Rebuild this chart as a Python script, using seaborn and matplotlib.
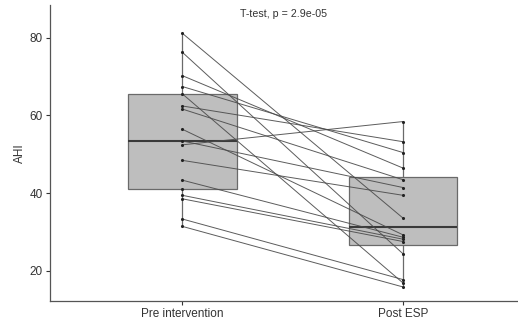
import matplotlib
matplotlib.use("Agg")
import matplotlib.pyplot as plt
import seaborn as sns
import pandas as pd
import numpy as np

# --- data ---
groups = ["Pre intervention", "Post ESP"]
# paired subjects; the last pre value has no visible partner (sits on the box edge)
pre_ahi = [81.1, 76.2, 70.2, 67.4, 65.5, 62.4, 61.6, 56.4, 53.4, 52.4, 48.4, 43.3, 39.4, 38.5, 33.3, 31.4, 41.1]
post_ahi = [33.5, 24.3, 46.4, 50.4, 16.8, 53.2, 43.4, 29.2, 41.4, 58.4, 39.4, 28.6, 28.1, 27.5, 17.7, 15.8, np.nan]
y_ticks = [20, 40, 60, 80]
annotation = "T-test, p = 2.9e-05"
y_label = "AHI"

sns.set_theme(style="white")
plt.rcParams["font.family"] = ["Liberation Sans", "DejaVu Sans"]

n = len(pre_ahi)
df = pd.DataFrame({
    "id": list(range(n)) * 2,
    "group": [groups[0]] * n + [groups[1]] * n,
    "AHI": pre_ahi + post_ahi,
})

fig = plt.figure(figsize=(5.18, 3.25), dpi=100)
ax = fig.add_axes([50 / 518, 24 / 325, 468 / 518, 296 / 325])

sns.boxplot(data=df, x="group", y="AHI", order=groups, ax=ax, width=0.49,
            color="#bebebe", saturation=1, whis=1.5, showfliers=False, showcaps=False,
            boxprops=dict(edgecolor="#6a6a6a", linewidth=0.9, facecolor="#bebebe"),
            medianprops=dict(color="#3a3a3a", linewidth=1.5),
            whiskerprops=dict(color="#6a6a6a", linewidth=0.9), zorder=1)

sns.lineplot(data=df.dropna(), x="group", y="AHI", units="id", estimator=None, ax=ax,
             color="#4a4a4a", linewidth=0.7, alpha=0.9, zorder=3, sort=False)
sns.scatterplot(data=df.dropna(), x="group", y="AHI", ax=ax, color="#222222", s=5,
                linewidth=0, zorder=4)

ax.set_xlim(-0.6, 1.52)
ax.set_ylim(12.2, 88.4)
ax.set_yticks(y_ticks)
ax.set_xlabel("")
ax.set_ylabel(y_label, fontsize=8.5, color="#333333", labelpad=3)
ax.tick_params(axis="both", labelsize=8.5, colors="#333333", length=3, width=0.8,
               direction="out", left=True, bottom=True, pad=2)
for s in ["top", "right"]:
    ax.spines[s].set_visible(False)
for s in ["left", "bottom"]:
    ax.spines[s].set_color("#555555")
    ax.spines[s].set_linewidth(0.9)
ax.grid(False)
ax.text(0.5, 0.985, annotation, transform=ax.transAxes, ha="center", va="top",
        fontsize=7.7, color="#333333")

fig.savefig("out.png", dpi=100)
